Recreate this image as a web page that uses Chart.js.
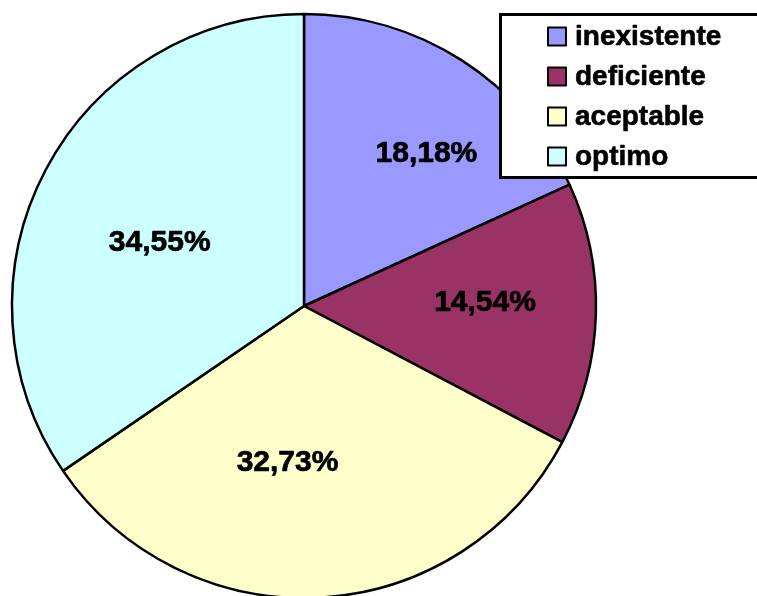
<!DOCTYPE html>
<html>
<head>
<meta charset="utf-8">
<script src="https://cdn.jsdelivr.net/npm/chart.js@4.4.1/dist/chart.umd.min.js"></script>
<style>
  html, body { margin: 0; padding: 0; background: #ffffff; }
  #wrap { width: 757px; height: 596px; position: relative; }
</style>
</head>
<body>
<div id="wrap"><canvas id="c" width="757" height="596"></canvas></div>
<script>
// Categories and their shares (percent)
const categories = ['inexistente', 'deficiente', 'aceptable', 'optimo'];
const shares = [18.18, 14.54, 32.73, 34.55];
const sliceColors = ['#9999FF', '#993366', '#FFFFCC', '#CCFFFF'];

// Percent text inside each slice, e.g. "18,18%"
function fmtPct(v) {
  return v.toFixed(2).replace('.', ',') + '%';
}

// Heavy text: fill plus a thin outline in the same colour
function heavyText(ctx, txt, x, y, w) {
  ctx.fillText(txt, x, y);
  ctx.lineWidth = w;
  ctx.strokeStyle = ctx.fillStyle;
  ctx.strokeText(txt, x, y);
}

// Draws the percentage labels inside the slices
const sliceLabels = {
  id: 'sliceLabels',
  afterDatasetsDraw(chart, args, opts) {
    const ctx = chart.ctx;
    const meta = chart.getDatasetMeta(0);
    const values = chart.data.datasets[0].data;
    ctx.save();
    ctx.font = opts.font;
    ctx.fillStyle = '#000';
    ctx.textAlign = 'center';
    ctx.textBaseline = 'middle';
    ctx.lineJoin = 'round';
    meta.data.forEach((arc, i) => {
      const p = arc.getProps(['x', 'y', 'startAngle', 'endAngle', 'outerRadius'], true);
      const mid = (p.startAngle + p.endAngle) / 2 + (opts.angleShift[i] || 0) * Math.PI / 180;
      const r = p.outerRadius * opts.radial[i];
      heavyText(ctx, fmtPct(values[i]), p.x + r * Math.cos(mid), p.y + r * Math.sin(mid), 0.7);
    });
    ctx.restore();
  }
};

// Boxed legend in the upper right corner
const boxLegend = {
  id: 'boxLegend',
  afterDraw(chart, args, opts) {
    const ctx = chart.ctx;
    const labels = chart.data.labels;
    const colors = chart.data.datasets[0].backgroundColor;
    ctx.save();
    ctx.fillStyle = '#fff';
    ctx.strokeStyle = '#000';
    ctx.lineWidth = 3;
    ctx.fillRect(opts.x, opts.y, opts.w, opts.h);
    ctx.strokeRect(opts.x, opts.y, opts.w, opts.h);
    ctx.font = opts.font;
    ctx.textBaseline = 'middle';
    ctx.textAlign = 'left';
    ctx.lineJoin = 'round';
    labels.forEach((lab, i) => {
      const cy = opts.y + opts.firstRow + i * opts.rowGap;
      ctx.fillStyle = colors[i];
      ctx.fillRect(opts.swatchX, cy - 9, 18, 18);
      ctx.lineWidth = 2;
      ctx.strokeStyle = '#000';
      ctx.strokeRect(opts.swatchX, cy - 9, 18, 18);
      ctx.fillStyle = '#000';
      heavyText(ctx, lab, opts.textX, cy + 1, 0.6);
    });
    ctx.restore();
  }
};

new Chart(document.getElementById('c'), {
  type: 'pie',
  data: {
    labels: categories,
    datasets: [{
      data: shares,
      backgroundColor: sliceColors,
      borderColor: '#000',
      borderWidth: 2.5,
      borderAlign: 'center'
    }]
  },
  options: {
    responsive: false,
    animation: false,
    radius: 292,
    layout: { padding: { top: 16, left: 0, right: 149, bottom: 0 } },
    plugins: {
      legend: { display: false },
      tooltip: { enabled: false },
      sliceLabels: {
        font: 'bold 30px "Liberation Sans", Arial, sans-serif',
        radial: [0.67, 0.62, 0.54, 0.54],
        angleShift: [6, -2.6, 9.3, -4]
      },
      boxLegend: {
        x: 500.5, y: 14.5, w: 262, h: 163,
        swatchX: 548, textX: 575,
        firstRow: 22, rowGap: 40,
        font: 'bold 28px "Liberation Sans", Arial, sans-serif'
      }
    }
  },
  plugins: [sliceLabels, boxLegend]
});
</script>
</body>
</html>
